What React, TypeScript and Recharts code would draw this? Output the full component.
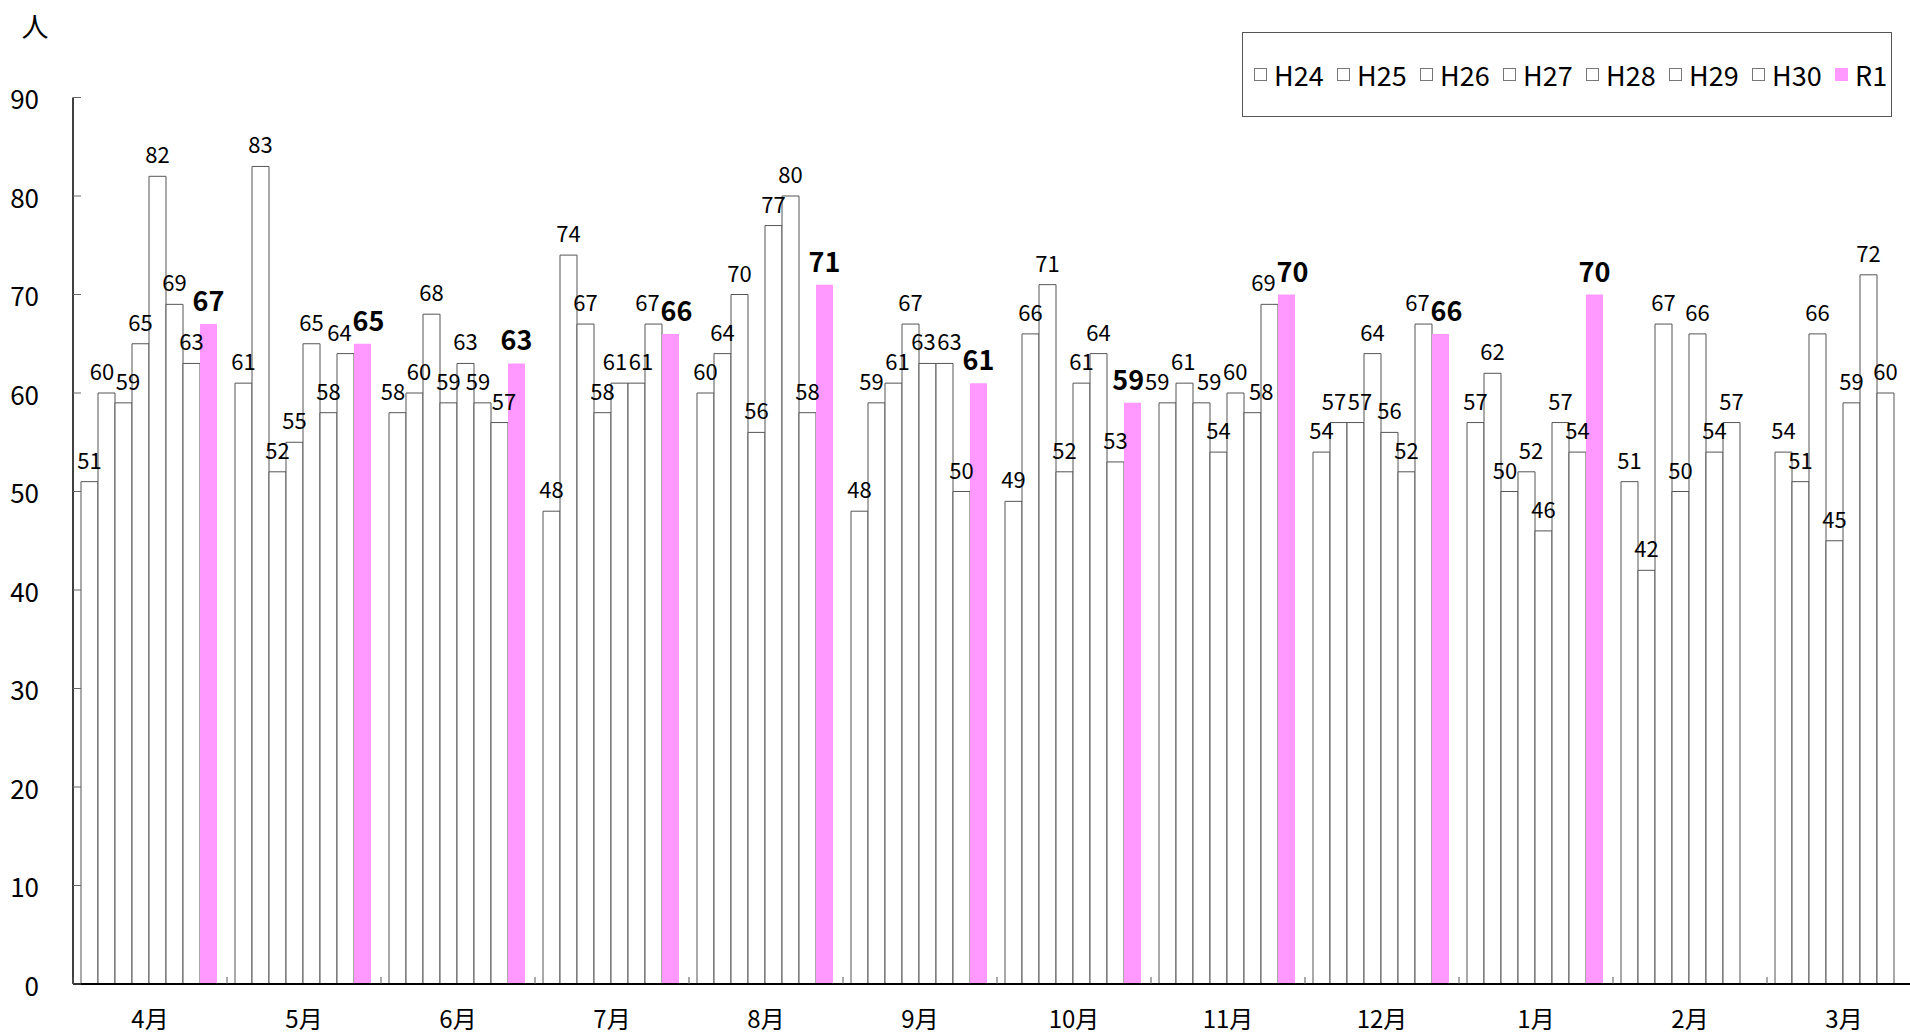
import React from 'react';
import { BarChart, Bar, XAxis, YAxis, LabelList, Legend } from 'recharts';

const months = ['4月', '5月', '6月', '7月', '8月', '9月', '10月', '11月', '12月', '1月', '2月', '3月'];
const H24 = [51, 61, 58, 48, 60, 48, 49, 59, 54, 57, 51, 54];
const H25 = [60, 83, 60, 74, 64, 59, 66, 61, 57, 62, 42, 51];
const H26 = [59, 52, 68, 67, 70, 61, 71, 59, 57, 50, 67, 66];
const H27 = [65, 55, 59, 58, 56, 67, 52, 54, 64, 52, 50, 45];
const H28 = [82, 65, 63, 61, 77, 63, 61, 60, 56, 46, 66, 59];
const H29 = [69, 58, 59, 61, 80, 63, 64, 58, 52, 57, 54, 72];
const H30 = [63, 64, 57, 67, 58, 50, 53, 69, 67, 54, 57, 60];
const R1: (number | null)[] = [67, 65, 63, 66, 71, 61, 59, 70, 66, 70, null, null];
const yTicks = [0, 10, 20, 30, 40, 50, 60, 70, 80, 90];

const seriesNames = ['H24', 'H25', 'H26', 'H27', 'H28', 'H29', 'H30', 'R1'];
const seriesValues = [H24, H25, H26, H27, H28, H29, H30, R1];

const data = months.map((m, i) => {
  const row: any = { month: m };
  seriesNames.forEach((s, k) => {
    row[s] = seriesValues[k][i];
  });
  return row;
});

const PINK = '#FF99FF';
const FONT = '"Noto Sans CJK JP", "Noto Sans", sans-serif';

// simple label collision avoidance (like the spreadsheet's label placement)
const BAR_PITCH = 17;
const BAND = 154;
const PX_PER_UNIT = 886.5 / 90;
const labelShift: number[][] = seriesNames.map(() => months.map(() => 0));
{
  const items: { k: number; m: number; v: number; base: number; cx: number; w: number; h: number }[] = [];
  months.forEach((_, m) => {
    seriesNames.forEach((s, k) => {
      const v = seriesValues[k][m];
      if (v === null || v === undefined) return;
      const base = m * BAND + k * BAR_PITCH;
      items.push({ k, m, v, base, cx: base, w: s === 'R1' ? 31 : 25, h: s === 'R1' ? 24 : 21 });
    });
  });
  for (let iter = 0; iter < 40; iter++) {
    let moved = false;
    for (let i = 0; i < items.length; i++) {
      for (let j = i + 1; j < items.length; j++) {
        const a = items[i];
        const b = items[j];
        if (b.base - a.base > 60) continue;
        const dy = Math.abs(a.v - b.v) * PX_PER_UNIT;
        if (dy >= Math.min(a.h, b.h)) continue;
        const need = (a.w + b.w) / 2 + 1;
        const gap = b.cx - a.cx;
        if (gap < need - 0.01) {
          const d = (need - gap) / 2;
          a.cx -= d;
          b.cx += d;
          moved = true;
        }
      }
    }
    if (!moved) break;
  }
  items.forEach((it) => {
    labelShift[it.k][it.m] = it.cx - it.base;
  });
}

const makeLabel = (k: number, bold: boolean) => (p: any) => {
  const value = p.value;
  if (value === null || value === undefined) return null;
  const vb = p.viewBox || p;
  const x = Number(vb.x);
  const y = Number(vb.y);
  const w = Number(vb.width);
  let idx = p.index;
  if (idx === undefined || idx === null) idx = p.payload ? months.indexOf(p.payload.month) : 0;
  const shift = labelShift[k][idx] || 0;
  return (
    <text
      x={x + w / 2 + shift}
      y={y - 13}
      textAnchor="middle"
      fill="#000"
      fontSize={bold ? 27 : 22}
      fontWeight={bold ? 'bold' : 'normal'}
      fontFamily={FONT}
    >
      {value}
    </text>
  );
};

const MonthTick = (props: any) => {
  const { x, y, payload } = props;
  const half = payload && payload.offset ? payload.offset : 77;
  return (
    <g>
      <line x1={x - half} x2={x - half} y1={y} y2={y - 7} stroke="#555" strokeWidth={1} />
      <text x={x} y={y + 33} textAnchor="middle" dominantBaseline="central" fontSize={24} fill="#000" fontFamily={FONT}>
        {payload.value}
      </text>
    </g>
  );
};

const ValueTick = (props: any) => {
  const { x, y, payload } = props;
  return (
    <g>
      <line x1={x} x2={x + 8} y1={y} y2={y} stroke="#666" strokeWidth={1} />
      <text x={x - 34} y={y} textAnchor="end" dominantBaseline="central" fontSize={26} fill="#000" fontFamily={FONT}>
        {payload.value}
      </text>
    </g>
  );
};

const UnitLabel = () => (
  <text x={35} y={25} textAnchor="middle" dominantBaseline="central" fontSize={27} fill="#000" fontFamily={FONT}>
    人
  </text>
);

const LegendBox = () => (
  <div
    style={{
      boxSizing: 'border-box',
      width: 650,
      height: 85,
      border: '1px solid #555',
      background: '#fff',
      display: 'flex',
      alignItems: 'center',
      paddingLeft: 11,
      fontFamily: FONT,
    }}
  >
    {seriesNames.map((s) => (
      <div key={s} style={{ width: 83, display: 'flex', alignItems: 'center', flex: '0 0 auto' }}>
        <span
          style={{
            display: 'inline-block',
            boxSizing: 'border-box',
            width: 13,
            height: 13,
            background: s === 'R1' ? PINK : '#fff',
            border: s === 'R1' ? 'none' : '1px solid #777',
            marginRight: 7,
          }}
        />
        <span style={{ fontSize: 27, color: '#000', lineHeight: 1 }}>{s}</span>
      </div>
    ))}
  </div>
);

export default function App() {
  return (
    <div
      style={{
        position: 'absolute',
        left: 0,
        top: 0,
        width: 1910,
        height: 1033,
        overflow: 'hidden',
        background: '#fff',
        fontFamily: FONT,
      }}
    >
      <BarChart
        width={1921}
        height={1033}
        data={data}
        margin={{ top: 97.5, right: 0, bottom: 0, left: 0 }}
        barCategoryGap={8}
        barGap={0}
      >
        <XAxis
          dataKey="month"
          height={49}
          interval={0}
          tickLine={false}
          tickSize={0}
          tickMargin={0}
          axisLine={{ stroke: '#000', strokeWidth: 2 }}
          tick={<MonthTick />}
        />
        <YAxis
          domain={[0, 90]}
          ticks={yTicks}
          width={73}
          interval={0}
          tickLine={false}
          tickSize={0}
          tickMargin={0}
          axisLine={{ stroke: '#000', strokeWidth: 1.5 }}
          tick={<ValueTick />}
          label={<UnitLabel />}
        />
        <Legend
          verticalAlign="middle"
          align="center"
          layout="horizontal"
          content={<LegendBox />}
          wrapperStyle={{ position: 'absolute', top: 32, left: 1242, right: 'auto', bottom: 'auto', width: 650, height: 85 }}
        />
        {seriesNames.map((s, k) => {
          const isR1 = s === 'R1';
          return (
            <Bar
              key={s}
              dataKey={s}
              fill={isR1 ? PINK : '#fff'}
              stroke={isR1 ? 'none' : '#555'}
              strokeWidth={1}
              isAnimationActive={false}
            >
              <LabelList dataKey={s} position="top" content={makeLabel(k, isR1)} />
            </Bar>
          );
        })}
      </BarChart>
    </div>
  );
}
